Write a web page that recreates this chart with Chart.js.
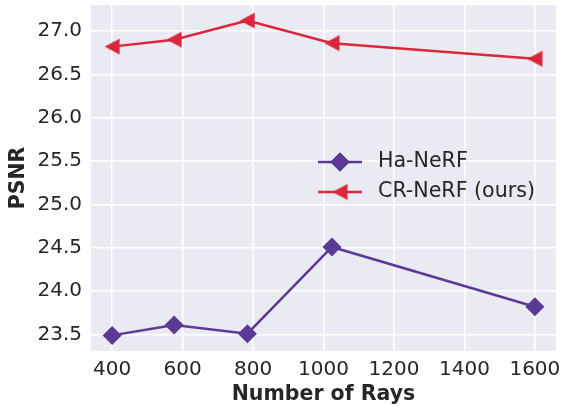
<!DOCTYPE html>
<html>
<head>
<meta charset="utf-8">
<script src="https://cdn.jsdelivr.net/npm/chart.js@4"></script>
<style>
  html, body { margin: 0; padding: 0; background: #fff; }
  canvas { display: block; }
</style>
</head>
<body>
<canvas id="psnrChart" width="561" height="406"></canvas>
<script>
// rays per batch and PSNR for both methods
const rays = [400, 576, 784, 1024, 1600];
const haNerf = [23.49, 23.61, 23.51, 24.51, 23.82];
const crNerf = [26.82, 26.90, 27.12, 26.86, 26.68];
const xTicks = [400, 600, 800, 1000, 1200, 1400, 1600];
const yTicks = [23.5, 24.0, 24.5, 25.0, 25.5, 26.0, 26.5, 27.0];

const purple = '#5b3a97';
const red = '#d9283b';
const textColor = '#262626';

function toPoints(ys) {
    return rays.map(function (x, i) { return { x: x, y: ys[i] }; });
}

// matplotlib style left triangle "<"
function leftTriangle(color) {
    const c = document.createElement('canvas');
    c.width = 16; c.height = 17;
    const ctx = c.getContext('2d');
    ctx.fillStyle = color;
    ctx.beginPath();
    ctx.moveTo(0.5, 8.5);
    ctx.lineTo(15.5, 0.5);
    ctx.lineTo(15.5, 16.5);
    ctx.closePath();
    ctx.fill();
    return c;
}
const triRed = leftTriangle(red);

// no extra room for overflowing tick labels
function noPad(s) {
    s.paddingLeft = 0; s.paddingRight = 0; s.paddingTop = 0; s.paddingBottom = 0;
}

const bgPlugin = {
    id: 'bg',
    beforeDraw: function (chart) {
        const a = chart.chartArea, ctx = chart.ctx;
        ctx.save();
        ctx.fillStyle = '#eaeaf2';
        ctx.fillRect(a.left, a.top, a.right - a.left, a.bottom - a.top);
        ctx.restore();
    }
};

const legendPlugin = {
    id: 'innerLegend',
    afterDatasetsDraw: function (chart) {
        const ctx = chart.ctx;
        const rows = [
            { label: 'Ha-NeRF', color: purple, y: 162, marker: 'diamond' },
            { label: 'CR-NeRF (ours)', color: red, y: 192, marker: 'tri' }
        ];
        ctx.save();
        rows.forEach(function (r) {
            ctx.strokeStyle = r.color;
            ctx.lineWidth = 2.5;
            ctx.beginPath();
            ctx.moveTo(318, r.y);
            ctx.lineTo(362, r.y);
            ctx.stroke();
            if (r.marker === 'diamond') {
                Chart.helpers.drawPoint(ctx, { pointStyle: 'rectRot', radius: 9.5, rotation: 0, borderWidth: 0 }, 340, r.y);
                ctx.fillStyle = r.color;
                ctx.fill();
            } else {
                ctx.drawImage(triRed, 340 - 8, r.y - 8.5);
            }
            ctx.fillStyle = textColor;
            ctx.font = '20.6px "DejaVu Sans"';
            ctx.textBaseline = 'middle';
            ctx.fillText(r.label, 378, r.y);
        });
        ctx.restore();
    }
};

new Chart(document.getElementById('psnrChart'), {
    type: 'line',
    data: {
        datasets: [{
            label: 'Ha-NeRF',
            data: toPoints(haNerf),
            borderColor: purple,
            backgroundColor: purple,
            borderWidth: 2.5,
            pointStyle: 'rectRot',
            pointRadius: 9.5,
            pointBorderWidth: 0,
            tension: 0,
            fill: false
        }, {
            label: 'CR-NeRF (ours)',
            data: toPoints(crNerf),
            borderColor: red,
            backgroundColor: red,
            borderWidth: 2.5,
            pointStyle: triRed,
            pointRadius: 9,
            tension: 0,
            fill: false
        }]
    },
    options: {
        responsive: false,
        animation: false,
        layout: { autoPadding: false, padding: { top: 5, right: 5, left: 0, bottom: 0 } },
        plugins: {
            legend: { display: false },
            tooltip: { enabled: false }
        },
        scales: {
            x: {
                type: 'linear',
                min: 340,
                max: 1660,
                afterFit: function (s) { s.height = 55; noPad(s); },
                afterBuildTicks: function (s) { s.ticks = xTicks.map(function (v) { return { value: v }; }); },
                grid: { color: '#ffffff', lineWidth: 1.5, drawTicks: false },
                border: { display: false },
                ticks: {
                    padding: 7,
                    color: textColor,
                    font: { family: 'DejaVu Sans', size: 20 },
                    maxRotation: 0,
                    callback: function (v) { return String(v); }
                },
                title: {
                    display: true,
                    text: 'Number of Rays',
                    color: textColor,
                    font: { family: 'DejaVu Sans', size: 20.5, weight: 'bold' },
                    padding: { top: 0, bottom: -1 }
                }
            },
            y: {
                min: 23.31,
                max: 27.30,
                afterFit: function (s) { s.width = 91; noPad(s); },
                afterBuildTicks: function (s) { s.ticks = yTicks.map(function (v) { return { value: v }; }); },
                grid: { color: '#ffffff', lineWidth: 1.5, drawTicks: false },
                border: { display: false },
                ticks: {
                    padding: 9,
                    color: textColor,
                    font: { family: 'DejaVu Sans', size: 20 },
                    callback: function (v) { return v.toFixed(1); }
                },
                title: {
                    display: true,
                    text: 'PSNR',
                    color: textColor,
                    font: { family: 'DejaVu Sans', size: 20.5, weight: 'bold' },
                    padding: { top: 6, bottom: 0 }
                }
            }
        }
    },
    plugins: [bgPlugin, legendPlugin]
});
</script>
</body>
</html>
